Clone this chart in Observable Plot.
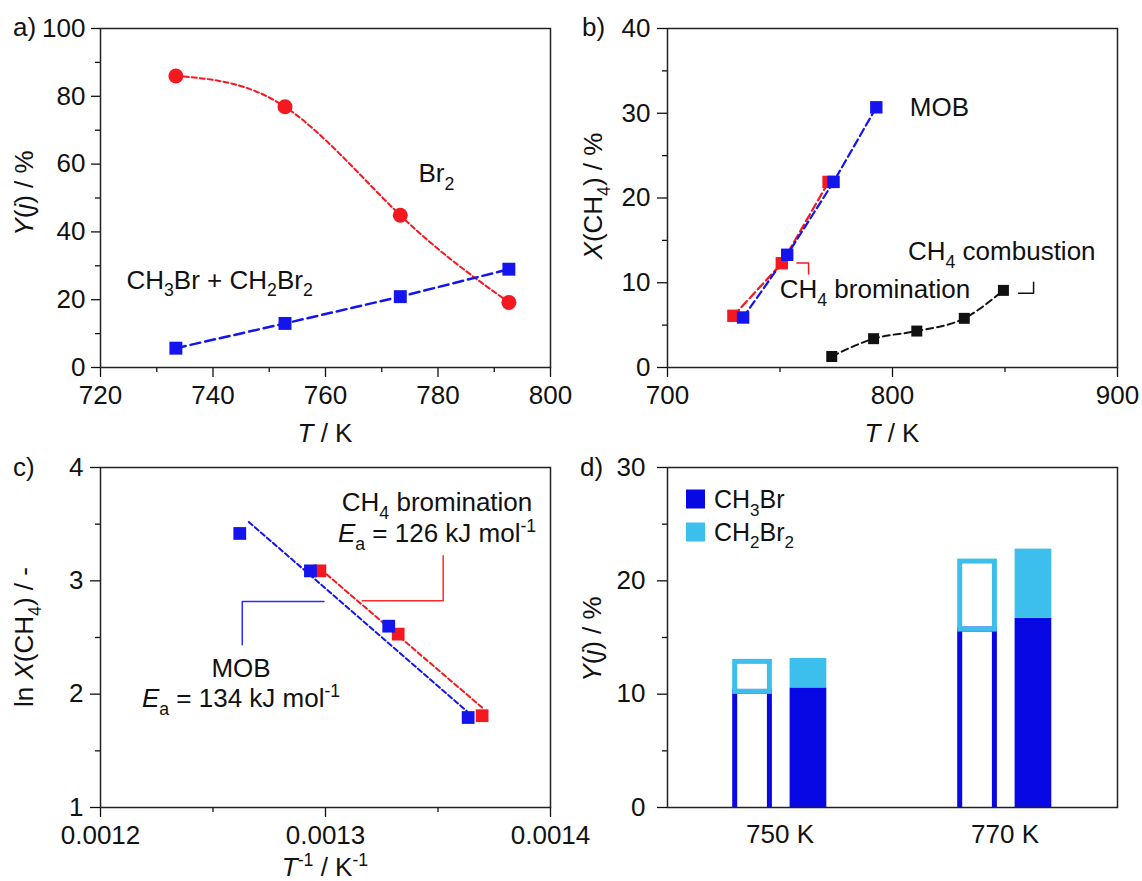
<!DOCTYPE html>
<html><head><meta charset="utf-8">
<script src="https://cdn.jsdelivr.net/npm/d3@7"></script>
<script src="https://cdn.jsdelivr.net/npm/@observablehq/plot@0.6"></script>
<style>
html,body{margin:0;padding:0;background:#fff;overflow:hidden;}
#fig{position:relative;width:1142px;height:881px;overflow:hidden;}
#fig svg{position:absolute;}
</style></head><body><div id="fig"></div>
<script>
// ---------------- data ----------------
// panel a
const aT = [733.4, 752.8, 773.3, 792.6];
const aBr2 = [86.0, 76.9, 44.9, 19.2];
const aMethyl = [5.7, 13.0, 20.9, 29.0];
const aXTicks = [720, 740, 760, 780, 800];
const aXMinor = [730, 750, 770, 790];
const aYTicks = [0, 20, 40, 60, 80, 100];
const aYMinor = [10, 30, 50, 70, 90];
const aLabels = ["Br_{2}", "CH_{3}Br + CH_{2}Br_{2}"];
const aLabelX = [776.6, 724.7];
const aLabelY = [54.6, 23.1];

// panel b
const bTBrom = [729.3, 750.8, 771.6];
const bXBrom = [6.1, 12.3, 21.9];
const bTMob = [733.6, 753.2, 773.8, 792.8];
const bXMob = [5.9, 13.3, 21.9, 30.7];
const bTComb = [773.0, 791.6, 810.8, 831.9, 849.3];
const bXComb = [1.3, 3.4, 4.3, 5.8, 9.1];
const bXTicks = [700, 800, 900];
const bXMinor = [750, 850];
const bYTicks = [0, 10, 20, 30, 40];
const bYMinor = [5, 15, 25, 35];
const bLabels = ["MOB", "CH_{4} combustion", "CH_{4} bromination"];
const bLabelX = [807.9, 807.1, 750.1];
const bLabelY = [29.6, 12.6, 8.15];
const bBracketBromT = [757.5, 762.7, 762.7];
const bBracketBromX = [12.34, 12.34, 11.04];
const bBracketCombT = [856.0, 862.7, 862.7];
const bBracketCombX = [8.75, 8.75, 10.05];

// panel c
const cInvTMob = [0.0012619, 0.0012933, 0.0013281, 0.0013634];
const cLnMob = [3.418, 3.088, 2.60, 1.794];
const cInvTBrom = [0.0012975, 0.0013323, 0.0013696];
const cLnBrom = [3.088, 2.53, 1.81];
const cFitMobX = [0.0012659, 0.0013630];
const cFitMobY = [3.52, 1.847];
const cFitBromX = [0.0012978, 0.0013696];
const cFitBromY = [3.103, 1.882];
const cCallMobX = [0.0012993, 0.0012630, 0.0012630];
const cCallMobY = [2.818, 2.818, 2.436];
const cCallBromX = [0.0013163, 0.0013523, 0.0013523];
const cCallBromY = [2.824, 2.824, 3.221];
const cXTicks = [0.0012, 0.0013, 0.0014];
const cXMinor = [0.00125, 0.00135];
const cYTicks = [1, 2, 3, 4];
const cYMinor = [1.5, 2.5, 3.5];
const cLabels = ["CH_{4} bromination", "*E*_{a} = 126 kJ mol^{-1}", "MOB", "*E*_{a} = 134 kJ mol^{-1}"];
const cLabelX = [0.0013498, 0.0013498, 0.0012627, 0.0012627];
const cLabelY = [3.612, 3.338, 2.147, 1.882];

// panel d
const dTemps = ["750 K", "770 K"];
const dOpenCH3Br = [10.2, 15.7];
const dOpenCH2Br2 = [2.65, 6.0];
const dFillCH3Br = [10.55, 16.7];
const dFillCH2Br2 = [2.6, 6.1];
const dYTicks = [0, 10, 20, 30];
const dYMinor = [5, 15, 25];
const dLegend = ["CH_{3}Br", "CH_{2}Br_{2}"];

// ---------------- style ----------------
const FONT = '"Liberation Sans", Arial, Helvetica, sans-serif';
const RED = "#f41820", BLUE = "#1414ee", BLACK = "#111111", DBLUE = "#0808e4", CYAN = "#3dbfee";
const baseStyle = {fontFamily: FONT, fontSize: "26px", background: "transparent", overflow: "visible", color: "#111"};
const fig = document.getElementById("fig");
const NS = "http://www.w3.org/2000/svg";

function place(svg, left, top) {
  svg.style.left = left + "px"; svg.style.top = top + "px";
  svg.style.maxWidth = "none";
  fig.appendChild(svg);
}
function lin(plot, name) { const s = plot.scale(name); return d3.scaleLinear(s.domain, s.range); }
function rich(svg, x, y, markup, {anchor = "start", size = 26, rotate = 0, fill = "#111"} = {}) {
  const t = document.createElementNS(NS, "text");
  t.setAttribute("x", x); t.setAttribute("y", y);
  t.setAttribute("text-anchor", anchor);
  t.setAttribute("font-size", size); t.setAttribute("font-family", FONT);
  t.setAttribute("fill", fill);
  t.setAttribute("style", "white-space:pre");
  if (rotate) t.setAttribute("transform", `rotate(${rotate},${x},${y})`);
  let shift = 0, italic = false;
  const parts = markup.split(/(_\{[^}]*\}|\^\{[^}]*\}|\*)/).filter(s => s !== "");
  for (const p of parts) {
    if (p === "*") { italic = !italic; continue; }
    let txt = p, target = 0, fs = size;
    if (p.startsWith("_{")) { txt = p.slice(2, -1); target = 0.3 * size; fs = 0.68 * size; }
    else if (p.startsWith("^{")) { txt = p.slice(2, -1); target = -0.38 * size; fs = 0.68 * size; }
    const s = document.createElementNS(NS, "tspan");
    s.setAttribute("dy", target - shift); shift = target;
    s.setAttribute("font-size", fs);
    if (italic) s.setAttribute("font-style", "italic");
    s.textContent = txt;
    t.appendChild(s);
  }
  svg.appendChild(t);
}
const str = d => String(d);
const blank = () => "";
function axes(xT, xM, yT, yM, xFmt, yFmt, ySize, yPad) {
  return [
    Plot.axisX({ticks: xT, tickSize: 10, tickPadding: 8, tickFormat: xFmt, label: null, strokeWidth: 1.3}),
    Plot.axisX({ticks: xM, tickSize: 5, tickFormat: blank, label: null, strokeWidth: 1.3}),
    Plot.axisY({ticks: yT, tickSize: ySize, tickPadding: yPad, tickFormat: yFmt, label: null, strokeWidth: 1.3}),
    Plot.axisY({ticks: yM, tickSize: 5, tickFormat: blank, label: null, strokeWidth: 1.3})
  ];
}
const frame = () => Plot.frame({stroke: "#222", strokeWidth: 1.5});

// ---------------- panel a ----------------
const A = Plot.plot({
  width: 580, height: 440, marginLeft: 100, marginRight: 30, marginTop: 28, marginBottom: 73,
  style: baseStyle,
  x: {domain: [720, 800], label: null}, y: {domain: [0, 100], label: null},
  marks: [
    ...axes(aXTicks, aXMinor, aYTicks, aYMinor, str, str, 9, 6),
    Plot.line(aT, {x: aT, y: aBr2, stroke: RED, strokeWidth: 2, strokeDasharray: "5,3", curve: "natural"}),
    Plot.line(aT, {x: aT, y: aMethyl, stroke: BLUE, strokeWidth: 2.5, strokeDasharray: "10,5"}),
    Plot.dot(aT, {x: aT, y: aBr2, r: 7.5, fill: RED}),
    Plot.dot(aT, {x: aT, y: aMethyl, r: 7.3, symbol: "square", fill: BLUE}),
    frame()
  ]
});
place(A, 0, 0);
{
  const x = lin(A, "x"), y = lin(A, "y");
  aLabels.forEach((l, i) => rich(A, x(aLabelX[i]), y(aLabelY[i]), l));
  rich(A, 33, 193, "*Y*(*j*) / %", {anchor: "middle", rotate: -90});
  rich(A, 325, 442, "*T* / K", {anchor: "middle"});
  rich(A, 13, 36, "a)");
}

// ---------------- panel b ----------------
const B = Plot.plot({
  width: 582, height: 440, marginLeft: 107, marginRight: 25, marginTop: 28, marginBottom: 73,
  style: baseStyle,
  x: {domain: [700, 900], label: null}, y: {domain: [0, 40], label: null},
  marks: [
    ...axes(bXTicks, bXMinor, bYTicks, bYMinor, str, str, 10, 7),
    Plot.line(bBracketBromT, {x: bBracketBromT, y: bBracketBromX, stroke: RED, strokeWidth: 1.5}),
    Plot.line(bBracketCombT, {x: bBracketCombT, y: bBracketCombX, stroke: BLACK, strokeWidth: 1.5}),
    Plot.line(bTComb, {x: bTComb, y: bXComb, stroke: BLACK, strokeWidth: 2, strokeDasharray: "7,4", curve: "monotone-x"}),
    Plot.line(bTBrom, {x: bTBrom, y: bXBrom, stroke: RED, strokeWidth: 2.2, strokeDasharray: "8,4"}),
    Plot.line(bTMob, {x: bTMob, y: bXMob, stroke: BLUE, strokeWidth: 2.2, strokeDasharray: "8,4"}),
    Plot.dot(bTComb, {x: bTComb, y: bXComb, r: 6.2, symbol: "square", fill: BLACK}),
    Plot.dot(bTBrom, {x: bTBrom, y: bXBrom, r: 7, symbol: "square", fill: RED}),
    Plot.dot(bTMob, {x: bTMob, y: bXMob, r: 7, symbol: "square", fill: BLUE}),
    frame()
  ]
});
place(B, 560, 0);
{
  const x = lin(B, "x"), y = lin(B, "y");
  bLabels.forEach((l, i) => rich(B, x(bLabelX[i]), y(bLabelY[i]), l));
  rich(B, 42, 196, "*X*(CH_{4}) / %", {anchor: "middle", rotate: -90});
  rich(B, 332, 442, "*T* / K", {anchor: "middle"});
  rich(B, 22, 36, "b)");
}

// ---------------- panel c ----------------
const C = Plot.plot({
  width: 580, height: 441, marginLeft: 100, marginRight: 30, marginTop: 27, marginBottom: 74,
  style: baseStyle,
  x: {domain: [0.0012, 0.0014], label: null}, y: {domain: [1, 4], label: null},
  marks: [
    ...axes(cXTicks, cXMinor, cYTicks, cYMinor, d3.format(".4f"), str, 10, 7),
    Plot.line(cCallMobX, {x: cCallMobX, y: cCallMobY, stroke: "#2a2aff", strokeWidth: 1.5}),
    Plot.line(cCallBromX, {x: cCallBromX, y: cCallBromY, stroke: "#ff2a2a", strokeWidth: 1.5}),
    Plot.line(cFitBromX, {x: cFitBromX, y: cFitBromY, stroke: RED, strokeWidth: 2, strokeDasharray: "5,3"}),
    Plot.line(cFitMobX, {x: cFitMobX, y: cFitMobY, stroke: BLUE, strokeWidth: 2, strokeDasharray: "5,3"}),
    Plot.dot(cInvTBrom, {x: cInvTBrom, y: cLnBrom, r: 7.2, symbol: "square", fill: RED}),
    Plot.dot(cInvTMob, {x: cInvTMob, y: cLnMob, r: 7.2, symbol: "square", fill: BLUE}),
    frame()
  ]
});
place(C, 0, 440);
{
  const x = lin(C, "x"), y = lin(C, "y");
  cLabels.forEach((l, i) => rich(C, x(cLabelX[i]), y(cLabelY[i]), l, {anchor: "middle"}));
  rich(C, 33, 197, "ln *X*(CH_{4}) / -", {anchor: "middle", rotate: -90});
  rich(C, 325, 436, "*T*^{-1} / K^{-1}", {anchor: "middle"});
  rich(C, 13, 36, "c)");
}

// ---------------- panel d ----------------
const dRows = dTemps.map((t, i) => ({
  t,
  o1: dOpenCH3Br[i], o2: dOpenCH3Br[i] + dOpenCH2Br2[i],
  f1: dFillCH3Br[i], f2: dFillCH3Br[i] + dFillCH2Br2[i]
}));
const D = Plot.plot({
  width: 582, height: 441, marginLeft: 107, marginRight: 25, marginTop: 27, marginBottom: 74,
  style: baseStyle,
  x: {type: "band", domain: dTemps, paddingInner: 0, paddingOuter: 0, label: null},
  y: {domain: [0, 30], label: null},
  marks: [
    Plot.axisX({tickSize: 0, tickPadding: 17, label: null}),
    Plot.axisY({ticks: dYTicks, tickSize: 10, tickPadding: 12, tickFormat: str, label: null, strokeWidth: 1.3}),
    Plot.axisY({ticks: dYMinor, tickSize: 5, tickFormat: blank, label: null, strokeWidth: 1.3}),
    Plot.barY(dRows, {x: "t", y1: 0, y2: "f1", fill: DBLUE, insetLeft: 122.6, insetRight: 65.7}),
    Plot.barY(dRows, {x: "t", y1: "f1", y2: "f2", fill: CYAN, insetLeft: 122.6, insetRight: 65.7}),
    Plot.barY(dRows, {x: "t", y1: 0, y2: "o1", fill: "none", stroke: DBLUE, strokeWidth: 5, insetLeft: 67.7, insetRight: 122.6, insetBottom: -6, clip: true}),
    Plot.barY(dRows, {x: "t", y1: "o1", y2: "o2", fill: "none", stroke: CYAN, strokeWidth: 5, insetLeft: 67.7, insetRight: 122.6}),
    frame()
  ]
});
place(D, 560, 440);
{
  const sw = [DBLUE, CYAN];
  dLegend.forEach((l, i) => {
    const r = document.createElementNS(NS, "rect");
    r.setAttribute("x", 126); r.setAttribute("y", 49.5 + i * 33);
    r.setAttribute("width", 19); r.setAttribute("height", 19);
    r.setAttribute("fill", sw[i]);
    D.appendChild(r);
    rich(D, 154, 68 + i * 32.5, l, {size: 25});
  });
  rich(D, 41, 199, "*Y*(*j*) / %", {anchor: "middle", rotate: -90});
  rich(D, 20, 36, "d)");
}
</script></body></html>
